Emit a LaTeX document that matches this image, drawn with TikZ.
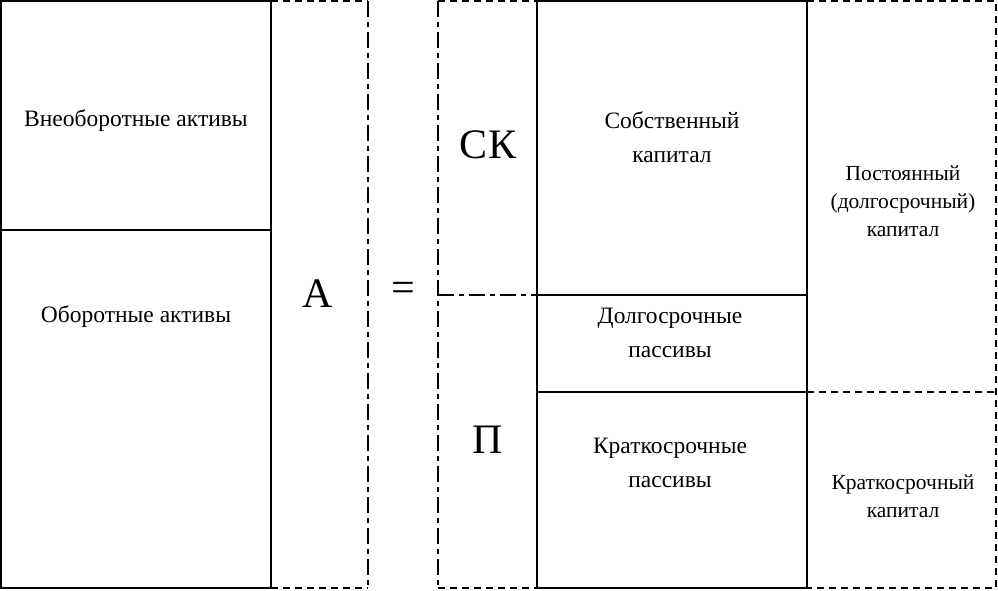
\documentclass[tikz,border=0pt]{standalone}
\usepackage{fontspec}
\setmainfont{Liberation Serif}
\begin{document}
\begin{tikzpicture}[x=1pt,y=-1pt,
  solidline/.style={line width=1.6pt},
  dashline/.style={line width=1.6pt,dash pattern=on 7pt off 5pt},
  dashdot/.style={line width=1.6pt,dash pattern=on 16pt off 5pt on 5pt off 5pt},
  lbl/.style={font=\fontsize{23.5}{34}\selectfont,align=center},
  rlbl/.style={font=\fontsize{21.5}{28}\selectfont,align=center},
  big/.style={font=\fontsize{42}{48}\selectfont}]
\useasboundingbox (0,0) rectangle (998,590);
% left solid box
\draw[solidline] (271,1) -- (1,1) -- (1,588) -- (271,588) -- cycle;
\draw[solidline] (1,230) -- (271,230);
% A box
\draw[dashline] (271,1) -- (368,1);
\draw[dashline] (271,588) -- (368,588);
\draw[dashdot] (368,1) -- (368,588);
% left part of right group
\draw[dashline] (438,1) -- (537,1);
\draw[dashline] (438,588) -- (537,588);
\draw[dashdot] (438,1) -- (438,588);
\draw[dashdot] (438,295) -- (537,295);
% middle solid box
\draw[solidline] (537,1) rectangle (807,588);
\draw[solidline] (537,295) -- (807,295);
\draw[solidline] (537,392) -- (807,392);
% right dashed box
\draw[dashline] (807,1) -- (996,1) -- (996,588) -- (807,588);
\draw[dashline] (807,392) -- (996,392);
% texts
\node[lbl] (vna) at (136,121) {Внеоборотные активы};
\node[lbl] (oa) at (136,317) {Оборотные активы};
\node[big] (A) at (318,294) {А};
\node[big] (eq) at (403,292) {=};
\node[big] (SK) at (488,145) {СК};
\node[big] (P) at (488,440) {П};
\node[lbl] (sk) at (672,137) {Собственный\\капитал};
\node[lbl] (dp) at (670,333) {Долгосрочные\\пассивы};
\node[lbl] (kp) at (670,463) {Краткосрочные\\пассивы};
\node[rlbl] (pk) at (903,201) {Постоянный\\(долгосрочный)\\капитал};
\node[rlbl] (kk) at (903,496) {Краткосрочный\\капитал};
\end{tikzpicture}
\end{document}
